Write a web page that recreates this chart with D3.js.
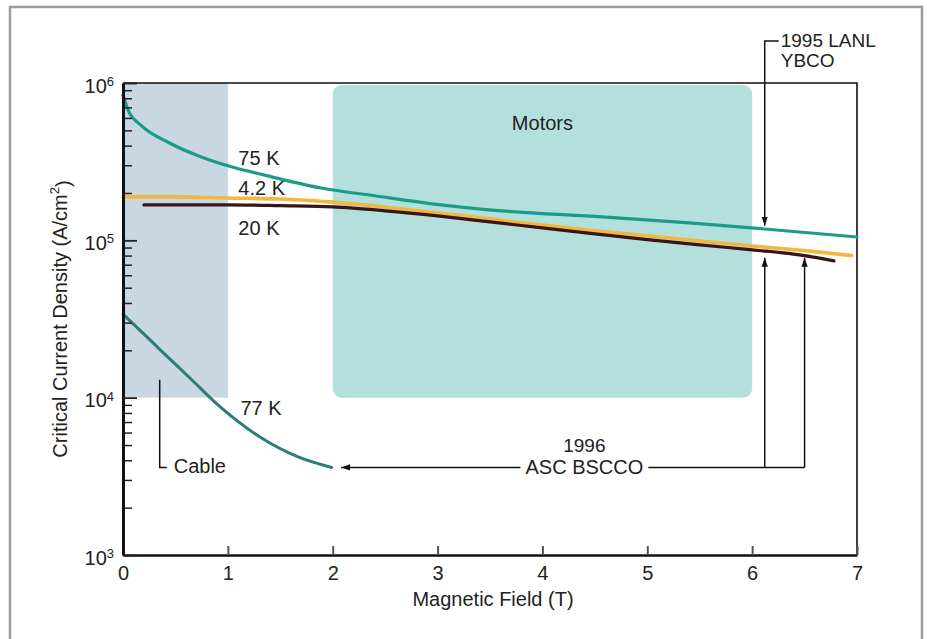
<!DOCTYPE html>
<html>
<head>
<meta charset="utf-8">
<script src="https://cdn.jsdelivr.net/npm/d3@7"></script>
<style>
  body { margin: 0; background: #fff; }
  svg { display: block; font-family: "Liberation Sans", Arial, sans-serif; }
  text { fill: #222; }
</style>
</head>
<body>
<svg id="drawing_region"></svg>
<script>
// ---- data ----
var fieldTicks = [0, 1, 2, 3, 4, 5, 6, 7];
var decadeTicks = [1e3, 1e4, 1e5, 1e6];

var field75 = [0, 0.05, 0.17, 0.43, 0.74, 1.06, 1.38, 1.89, 2.4, 2.97, 3.61, 4.57, 5.4, 6.12, 7.0];
var jc75 = [8.4e5, 6.7e5, 5.4e5, 4.2e5, 3.4e5, 2.9e5, 2.57e5, 2.15e5, 1.92e5, 1.70e5, 1.54e5, 1.41e5, 1.29e5, 1.18e5, 1.05e5];

var field42 = [0, 0.5, 1, 1.5, 2, 2.5, 3, 3.5, 4, 4.5, 5, 5.5, 6, 6.5, 6.95];
var jc42 = [1.89e5, 1.89e5, 1.86e5, 1.83e5, 1.75e5, 1.63e5, 1.49e5, 1.37e5, 1.25e5, 1.15e5, 1.07e5, 9.9e4, 9.2e4, 8.6e4, 8.0e4];

var field20 = [0.2, 0.5, 1, 1.5, 2, 2.5, 3, 3.5, 4, 4.5, 5, 5.5, 6, 6.5, 6.78];
var jc20 = [1.68e5, 1.68e5, 1.68e5, 1.66e5, 1.63e5, 1.54e5, 1.43e5, 1.31e5, 1.20e5, 1.10e5, 1.01e5, 9.35e4, 8.7e4, 8.0e4, 7.4e4];

var field77 = [0, 0.15, 0.36, 0.65, 0.93, 1.31, 1.67, 1.99];
var jc77 = [3.4e4, 2.73e4, 2.0e4, 1.31e4, 8.7e3, 5.6e3, 4.2e3, 3.6e3];

// application regions [x0, x1, y0, y1]
var cableRegion = [0, 1, 1e4, 1e6];
var motorsRegion = [2, 6, 1e4, 1e6];

// curve labels: text, field, Jc
var curveLabels = [
    {text: '75 K', x: 1.1, y: 3.24e5},
    {text: '4.2 K', x: 1.1, y: 2.09e5},
    {text: '20 K', x: 1.1, y: 1.16e5},
    {text: '77 K', x: 1.12, y: 8.4e3}
];

// annotations
var lanlArrow = {x: 6.12, top: 1.85e6, tip: 1.24e5};
var bsccoArrows = [6.12, 6.5];
var bsccoTip = 7.75e4;
var bsccoLevel = 3.6e3;
var bsccoLeftTip = 2.08;
var bsccoText = 4.4;
var cableMarker = {x: 0.35, top: 1.3e4};

// ---- layout ----
var width = 927;
var height = 639;
var margin = {top: 83, right: 70, bottom: 84, left: 123};
var fontSize = '20px';

var svg = d3.select('#drawing_region')
    .attr('width', width)
    .attr('height', height);

svg.append('defs').append('marker')
    .attr('id', 'arrow')
    .attr('viewBox', '0 0 10 10')
    .attr('refX', 10).attr('refY', 5)
    .attr('markerWidth', 9).attr('markerHeight', 9)
    .attr('markerUnits', 'userSpaceOnUse')
    .attr('orient', 'auto')
    .append('path')
    .attr('d', 'M0,1.5 L10,5 L0,8.5 Z')
    .attr('fill', '#111');

// outer frame
svg.append('rect')
    .attr('x', 10).attr('y', 7)
    .attr('width', 912).attr('height', 650)
    .attr('fill', 'none')
    .attr('stroke', '#9a9a9a')
    .attr('stroke-width', 2.5);

var x = d3.scaleLinear()
    .domain([0, 7])
    .range([margin.left, width - margin.right]);

var y = d3.scaleLog()
    .domain([1e3, 1e6])
    .range([height - margin.bottom, margin.top]);

// regions
svg.append('rect')
    .attr('x', x(cableRegion[0]))
    .attr('y', y(cableRegion[3]))
    .attr('width', x(cableRegion[1]) - x(cableRegion[0]))
    .attr('height', y(cableRegion[2]) - y(cableRegion[3]))
    .attr('fill', '#c8d7e2');

svg.append('rect')
    .attr('x', x(motorsRegion[0]))
    .attr('y', y(motorsRegion[3]) + 2)
    .attr('width', x(motorsRegion[1]) - x(motorsRegion[0]))
    .attr('height', y(motorsRegion[2]) - y(motorsRegion[3]) - 2)
    .attr('rx', 9)
    .attr('fill', '#b3e0dc');

svg.append('text')
    .attr('x', (x(motorsRegion[0]) + x(motorsRegion[1])) / 2)
    .attr('y', y(motorsRegion[3]) + 42)
    .attr('text-anchor', 'middle')
    .attr('dominant-baseline', 'middle')
    .style('font-size', fontSize)
    .text('Motors');

// frame lines top/right
svg.append('path')
    .attr('d', `M${x(0)},${y(1e6)} H${x(7)} V${y(1e3)}`)
    .attr('fill', 'none')
    .attr('stroke', '#111')
    .attr('stroke-width', 1.6);

// curves
var line = d3.line()
    .x(d => x(d[0]))
    .y(d => y(d[1]))
    .curve(d3.curveMonotoneX);

function drawCurve(fields, values, color, w) {
    svg.append('path')
        .datum(fields.map((f, i) => [f, values[i]]))
        .attr('d', line)
        .attr('fill', 'none')
        .attr('stroke', color)
        .attr('stroke-width', w)
        .attr('stroke-linecap', 'round');
}

drawCurve(field42, jc42, '#f2b73e', 3.6);
drawCurve(field20, jc20, '#3a1518', 3.2);
drawCurve(field75, jc75, '#1c9c88', 3.2);
drawCurve(field77, jc77, '#2c7d76', 3.0);

curveLabels.forEach(d => {
    svg.append('text')
        .attr('x', x(d.x))
        .attr('y', y(d.y))
        .attr('dominant-baseline', 'middle')
        .style('font-size', fontSize)
        .text(d.text);
});

// axes
var xaxis = d3.axisBottom(x)
    .tickValues(fieldTicks)
    .tickSizeInner(-9)
    .tickSizeOuter(0)
    .tickPadding(11)
    .tickFormat(d3.format('d'));

var gx = svg.append('g')
    .attr('transform', `translate(0, ${y(1e3)})`)
    .call(xaxis);
gx.select('.domain').attr('stroke', '#111').attr('stroke-width', 2.5);
gx.selectAll('.tick line').attr('stroke', '#555').attr('stroke-width', 2);
gx.selectAll('.tick text')
    .style('font-size', fontSize)
    .style('font-family', '"Liberation Sans", Arial, sans-serif')
    .attr('fill', '#222');

var minorTicks = [];
decadeTicks.slice(0, -1).forEach(dec => {
    for (var k = 2; k <= 9; k++) minorTicks.push(dec * k);
});

var yminor = d3.axisLeft(y)
    .tickValues(minorTicks)
    .tickSizeInner(-9)
    .tickSizeOuter(0)
    .tickFormat('');
var gym = svg.append('g')
    .attr('transform', `translate(${x(0)}, 0)`)
    .call(yminor);
gym.select('.domain').remove();
gym.selectAll('.tick line').attr('stroke', '#222').attr('stroke-width', 1.5);

var yaxis = d3.axisLeft(y)
    .tickValues(decadeTicks)
    .tickSizeInner(-14)
    .tickSizeOuter(0)
    .tickPadding(9)
    .tickFormat('');
var gy = svg.append('g')
    .attr('transform', `translate(${x(0)}, 0)`)
    .call(yaxis);
gy.select('.domain').attr('stroke', '#111').attr('stroke-width', 3);
gy.selectAll('.tick line').attr('stroke', '#222').attr('stroke-width', 1.8);
gy.selectAll('.tick text')
    .attr('dy', '0.45em')
    .style('font-size', fontSize)
    .style('font-family', '"Liberation Sans", Arial, sans-serif')
    .attr('fill', '#222')
    .each(function(d) {
        var t = d3.select(this);
        t.append('tspan').text('10');
        t.append('tspan')
            .attr('dy', '-0.5em')
            .style('font-size', '13px')
            .text(Math.round(Math.log10(d)));
    });

// axis titles
svg.append('text')
    .attr('x', (x(0) + x(7)) / 2 + 3)
    .attr('y', y(1e3) + 46)
    .attr('text-anchor', 'middle')
    .attr('dominant-baseline', 'middle')
    .style('font-size', fontSize)
    .text('Magnetic Field (T)');

var ylab = svg.append('text')
    .attr('transform', `translate(62, ${(y(1e3) + y(1e6)) / 2}) rotate(-90)`)
    .attr('text-anchor', 'middle')
    .attr('dominant-baseline', 'middle')
    .style('font-size', fontSize);
ylab.append('tspan').text('Critical Current Density (A/cm');
ylab.append('tspan').attr('dy', '-0.45em').style('font-size', '13px').text('2');
ylab.append('tspan').attr('dy', '0.45em').text(')');

// cable marker
svg.append('path')
    .attr('d', `M${x(cableMarker.x)},${y(cableMarker.top)} V${y(bsccoLevel)} h7`)
    .attr('fill', 'none')
    .attr('stroke', '#111')
    .attr('stroke-width', 1.5);
svg.append('text')
    .attr('x', x(cableMarker.x) + 14)
    .attr('y', y(bsccoLevel))
    .attr('dominant-baseline', 'middle')
    .style('font-size', fontSize)
    .text('Cable');

// 1995 LANL YBCO
svg.append('path')
    .attr('d', `M${x(lanlArrow.x) + 14},${y(lanlArrow.top)} H${x(lanlArrow.x)} V${y(lanlArrow.tip)}`)
    .attr('fill', 'none')
    .attr('stroke', '#111')
    .attr('stroke-width', 1.5)
    .attr('marker-end', 'url(#arrow)');
svg.append('text')
    .attr('x', x(lanlArrow.x) + 16)
    .attr('y', y(lanlArrow.top) + 1)
    .attr('dominant-baseline', 'middle')
    .style('font-size', '19px')
    .text('1995 LANL');
svg.append('text')
    .attr('x', x(lanlArrow.x) + 16)
    .attr('y', y(lanlArrow.top) + 21)
    .attr('dominant-baseline', 'middle')
    .style('font-size', '19px')
    .text('YBCO');

// 1996 ASC BSCCO
var bt = svg.append('text')
    .attr('x', x(bsccoText))
    .attr('y', y(bsccoLevel) + 1)
    .attr('text-anchor', 'middle')
    .attr('dominant-baseline', 'middle')
    .style('font-size', fontSize)
    .text('ASC BSCCO');
svg.append('text')
    .attr('x', x(bsccoText))
    .attr('y', y(bsccoLevel) - 20)
    .attr('text-anchor', 'middle')
    .attr('dominant-baseline', 'middle')
    .style('font-size', '19px')
    .text('1996');

var bb = bt.node().getBBox();
svg.append('line')
    .attr('x1', bb.x - 5).attr('x2', x(bsccoLeftTip))
    .attr('y1', y(bsccoLevel)).attr('y2', y(bsccoLevel))
    .attr('stroke', '#111')
    .attr('stroke-width', 1.5)
    .attr('marker-end', 'url(#arrow)');
svg.append('line')
    .attr('x1', bb.x + bb.width + 5).attr('x2', x(d3.max(bsccoArrows)))
    .attr('y1', y(bsccoLevel)).attr('y2', y(bsccoLevel))
    .attr('stroke', '#111')
    .attr('stroke-width', 1.5);
bsccoArrows.forEach(f => {
    svg.append('line')
        .attr('x1', x(f)).attr('x2', x(f))
        .attr('y1', y(bsccoLevel)).attr('y2', y(bsccoTip))
        .attr('stroke', '#111')
        .attr('stroke-width', 1.5)
        .attr('marker-end', 'url(#arrow)');
});
</script>
</body>
</html>
